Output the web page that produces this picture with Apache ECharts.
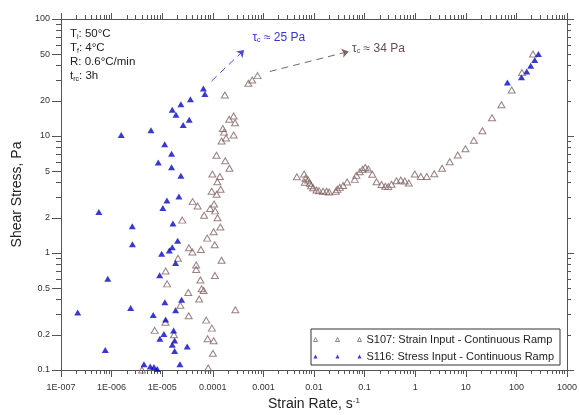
<!DOCTYPE html>
<html><head><meta charset="utf-8">
<script src="https://cdn.jsdelivr.net/npm/echarts@6/dist/echarts.min.js"></script>
<style>html,body{margin:0;padding:0;background:#fff}#c{width:580px;height:415px}</style>
</head><body><div id="c"></div>
<script>
// ---- data (strain rate [1/s], shear stress [Pa]) ----
const s107 = [
  [3.98e-6,0.1],[7.1e-6,0.218],[1.16e-5,0.256],[1.17e-5,0.702],[1.25e-5,0.545],[1.71e-5,0.2],
  [2.05e-5,0.901],[2.29e-5,0.357],[2.49e-5,1.91],[3.27e-5,0.459],[3.34e-5,0.291],[3.37e-5,1.11],
  [3.95e-5,1.02],[3.99e-5,2.75],[4.7e-5,0.79],[4.7e-5,0.723],[5.01e-5,2.52],[5.38e-5,0.404],
  [5.69e-5,0.588],[5.82e-5,1.07],[6.01e-5,0.494],[6.58e-5,0.478],[6.73e-5,2.1],[7.41e-5,0.267],
  [7.75e-5,1.34],[7.89e-5,0.185],[8.11e-5,0.104],[8.85e-5,2.4],[9.51e-5,3.37],[9.6e-5,0.228],
  [9.82e-5,4.73],[1.005e-4,0.139],[1.04e-4,0.178],[1.04e-4,1.52],[1.06e-4,2.62],[1.09e-4,1.175],
  [1.1e-4,0.643],[1.11e-4,2.29],[1.19e-4,3.18],[1.18e-4,6.85],[1.23e-4,4.06],[1.24e-4,2.0],
  [1.38e-4,4.51],[1.43e-4,3.51],[1.41e-4,1.67],[1.49e-4,0.867],[1.49e-4,9.06],[1.58e-4,11.6],
  [1.67e-4,10.8],[1.73e-4,22.4],[1.76e-4,6.15],[1.83e-4,9.61],[2.11e-4,13.9],[2.13e-4,5.3],
  [2.58e-4,10.2],[2.58e-4,14.8],[2.75e-4,13.0],[2.79e-4,0.327],[5.05e-4,28.2],[6.0e-4,30.1],
  [7.67e-4,32.8],
  [4.58e-3,4.49],[6.38e-3,4.73],[6.81e-3,4.35],[6.59e-3,4.02],[7.66e-3,4.21],[8.28e-3,3.94],
  [8.77e-3,3.76],[9.62e-3,3.61],[0.0112,3.46],[0.0126,3.41],[0.0151,3.37],[0.0177,3.37],
  [0.0199,3.32],[0.027,3.37],[0.0289,3.5],[0.0324,3.64],[0.0376,3.78],[0.0451,4.04],
  [0.064,4.26],[0.0686,4.61],[0.0804,4.94],[0.091,5.19],[0.103,5.38],[0.118,5.22],
  [0.142,4.71],[0.172,4.07],[0.216,3.85],[0.256,3.72],[0.294,3.69],[0.34,3.87],
  [0.427,4.15],[0.519,4.21],[0.622,4.12],[0.746,3.97],[0.981,4.73],[1.29,4.51],
  [1.69,4.51],[2.38,4.75],[3.4,5.3],[4.82,6.03],[6.93,6.88],[9.84,7.79],
  [14.4,9.19],[21.3,11.1],[33,14.3],[50.6,18.5],[80.7,24.7],[129,34.8],[213,50.2]
];
const s116 = [
  [2.14e-7,0.31],[5.6e-7,2.24],[7.5e-7,0.148],[8.4e-7,0.603],[1.55e-6,10.2],[2.38e-6,0.339],
  [2.56e-6,1.69],[2.58e-6,1.19],[4.36e-6,0.112],[5.8e-6,0.107],[6.0e-6,11.2],[6.65e-6,0.295],
  [6.87e-6,0.106],[7.98e-6,0.102],[8.36e-6,5.94],[8.9e-6,0.646],[9.0e-6,0.185],[9.75e-6,0.986],
  [1.03e-5,2.43],[1.08e-5,0.203],[1.12e-5,8.49],[1.13e-5,0.38],[1.17e-5,0.27],[1.24e-5,2.81],
  [1.38e-5,1.05],[1.53e-5,7.06],[1.53e-5,5.41],[1.58e-5,16.8],[1.58e-5,1.12],[1.58e-5,0.164],
  [1.63e-5,1.79],[1.68e-5,0.218],[1.76e-5,0.179],[1.76e-5,0.145],[1.84e-5,0.822],[1.84e-5,0.324],
  [1.87e-5,15.2],[2.02e-5,1.27],[2.14e-5,3.04],[2.24e-5,0.112],[2.34e-5,18.7],[2.34e-5,4.58],
  [2.42e-5,0.399],[2.6e-5,12.4],[3.12e-5,0.159],[3.42e-5,13.8],[3.61e-5,20.6],[6.52e-5,25.5],
  [6.98e-5,22.9],
  [66.4,28.6],[126,31.8],[160,35.5],[192,39.9],[230,44.6],[272,50.2]
];
const seriesNames = ['S107: Strain Input - Continuous Ramp', 'S116: Stress Input - Continuous Ramp'];

// ---- axes ----
const xTickValues = [1e-7,1e-6,1e-5,1e-4,1e-3,0.01,0.1,1,10,100,1000];
const xTickLabels = ['1E-007','1E-006','1E-005','0.0001','0.001','0.01','0.1','1','10','100','1000'];
const yTickValues = [0.1,0.2,0.5,1,2,5,10,20,50,100];
const yTickLabels = ['0.1','0.2','0.5','1','2','5','10','20','50','100'];
const yDecades = [0.1,1,10,100];
const minorMultipliers = [2,3,4,5,6,7,8,9];

// ---- annotations (data coordinates) ----
const arrow25 = [[9.46e-5,29.5],[4.17e-4,54.4]];
const arrow34 = [[1.34e-3,35.6],[0.0488,52.8]];
const label25 = {at:[5.92e-4,68.9], value:'25 Pa'};
const label34 = {at:[0.0551,56.2], value:'34 Pa'};
const infoLines = [['T','i',': 50°C'],['T','f',': 4°C'],['R: 0.6°C/min','',''],['t','rc',': 3h']];

const L = Math.log10;
const xMin = L(xTickValues[0]), xMax = L(xTickValues[xTickValues.length-1]);
const yMin = L(yTickValues[0]), yMax = L(yTickValues[yTickValues.length-1]);
const xDecLog = xTickValues.map(L);
const xMinorLog = [];
xTickValues.slice(0,-1).forEach(d => minorMultipliers.forEach(m => xMinorLog.push(L(d*m))));
const yAllMinor = [];
yDecades.slice(0,-1).forEach(d => minorMultipliers.forEach(m => yAllMinor.push(L(d*m))));
const yLabLog = yTickValues.map(L);
const yLeftMinor = yAllMinor.filter(v => !yLabLog.some(t => Math.abs(t-v) < 1e-6));
const yDecLog = yDecades.map(L);

function lookup(vals, labels, v){
  for (let i=0;i<vals.length;i++){ if (Math.abs(L(vals[i])-v) < 1e-6) return labels[i]; }
  return '';
}
const FONT = 'Liberation Sans, Arial, sans-serif';
const AX = '#555';
const BLUE = '#0808c4';
const BROWN = '#7f6262';

function xAx(pos, ticks, len, labels, line){
  return {
    type:'value', min:xMin, max:xMax, position:pos,
    axisLine:{show:line, onZero:false, lineStyle:{color:AX, width:1}},
    axisTick:{show:true, inside:false, length:len, customValues:ticks, lineStyle:{color:AX}},
    axisLabel: labels ? {show:true, customValues:xDecLog, margin:13, fontSize:9, color:'#333', fontFamily:FONT,
      formatter: v => lookup(xTickValues, xTickLabels, v)} : {show:false},
    splitLine:{show:false}
  };
}
function yAx(pos, ticks, len, labels, line){
  return {
    type:'value', min:yMin, max:yMax, position:pos,
    axisLine:{show:line, onZero:false, lineStyle:{color:AX, width:1}},
    axisTick:{show:true, inside:false, length:len, customValues:ticks, lineStyle:{color:AX}},
    axisLabel: labels ? {show:true, customValues:yLabLog, margin:11, fontSize:9, color:'#333', fontFamily:FONT,
      formatter: v => lookup(yTickValues, yTickLabels, v)} : {show:false},
    splitLine:{show:false}
  };
}
const xAxes = [xAx('bottom', xDecLog, 7, true, true), xAx('bottom', xMinorLog, 4, false, false),
               xAx('top', xDecLog, 6, false, true), xAx('top', xMinorLog, 4, false, false)];
Object.assign(xAxes[0], {name:'Strain Rate, s{sup|-1}', nameLocation:'middle', nameGap:26,
  nameTextStyle:{fontSize:14, color:'#222', fontFamily:FONT, rich:{sup:{fontSize:8, verticalAlign:'top', lineHeight:8, color:'#222', fontFamily:FONT}}}});
const yAxes = [yAx('left', yLabLog, 9, true, true), yAx('left', yLeftMinor, 5, false, false),
               yAx('right', yDecLog, 7, false, true), yAx('right', yAllMinor, 4, false, false)];
Object.assign(yAxes[0], {name:'Shear Stress, Pa', nameLocation:'middle', nameGap:33, nameRotate:90,
  nameTextStyle:{fontSize:14, color:'#222', fontFamily:FONT}});

const tauRich = (col) => ({
  t:{fontSize:12, color:col, fontFamily:FONT},
  c:{fontSize:7, color:col, fontFamily:FONT, verticalAlign:'bottom', lineHeight:6}
});
function arrowLine(pts, col){
  return {silent:true, animation:false, symbol:['none','arrow'], symbolSize:7,
    label:{show:false}, lineStyle:{type:[7,5], width:1, color:col},
    data:[[{coord:[L(pts[0][0]),L(pts[0][1])]},{coord:[L(pts[1][0]),L(pts[1][1])]}]]};
}
function tauPoint(lab, col){
  return {silent:true, animation:false, symbol:'circle', symbolSize:1, itemStyle:{color:'rgba(0,0,0,0)'},
    data:[{coord:[L(lab.at[0]),L(lab.at[1])], label:{show:true, position:'right', distance:0,
      formatter:'{t|τ}{c|c}{t| ≈ ' + lab.value + '}', rich:tauRich(col)}}]};
}

const info = infoLines.map(r => r[1] ? '{n|'+r[0]+'}{s|'+r[1]+'}{n|'+r[2]+'}' : '{n|'+r[0]+'}').join('\n');
const triIcon = 'path://M0,8L4,0L8,8Z M44,8L48,0L52,8Z M88,8L92,0L96,8Z';

const chart = echarts.init(document.getElementById('c'), null, {renderer:'canvas'});
chart.setOption({
  animation:false,
  backgroundColor:'#fff',
  textStyle:{fontFamily:FONT},
  grid:{left:61, right:13, top:19, bottom:45, containLabel:false, outerBoundsMode:'none'},
  title:{text:info, left:70, top:27, padding:0,
    textStyle:{fontWeight:'normal', rich:{
      n:{fontSize:11.5, lineHeight:14, color:'#222', fontFamily:FONT, fontWeight:'normal'},
      s:{fontSize:7, lineHeight:7, verticalAlign:'bottom', color:'#222', fontFamily:FONT, fontWeight:'normal'}}}},
  legend:{
    orient:'vertical', left:311, top:329, padding:[4,6,2,2], itemGap:4,
    itemWidth:48, itemHeight:4, icon:triIcon,
    borderColor:'#333', borderWidth:1, backgroundColor:'#fff',
    textStyle:{fontSize:11, color:'#222', fontFamily:FONT, lineHeight:13},
    data:[
      {name:seriesNames[0], itemStyle:{color:'rgba(0,0,0,0)', borderColor:BROWN, borderWidth:1}},
      {name:seriesNames[1], itemStyle:{color:BLUE, borderWidth:0}}
    ]
  },
  xAxis:xAxes,
  yAxis:yAxes,
  series:[
    {name:seriesNames[0], type:'scatter', xAxisIndex:0, yAxisIndex:0,
      symbol:'triangle', symbolSize:[7,6],
      itemStyle:{color:'rgba(0,0,0,0)', borderColor:BROWN, borderWidth:1},
      data:s107.map(p => [L(p[0]), L(p[1])]),
      markLine:arrowLine(arrow34, BROWN), markPoint:tauPoint(label34, '#6a4e4e')},
    {name:seriesNames[1], type:'scatter', xAxisIndex:0, yAxisIndex:0,
      symbol:'triangle', symbolSize:[7,6],
      itemStyle:{color:BLUE},
      data:s116.map(p => [L(p[0]), L(p[1])]),
      markLine:arrowLine(arrow25, '#4a4ad8'), markPoint:tauPoint(label25, '#3535d0')}
  ]
});
</script></body></html>
